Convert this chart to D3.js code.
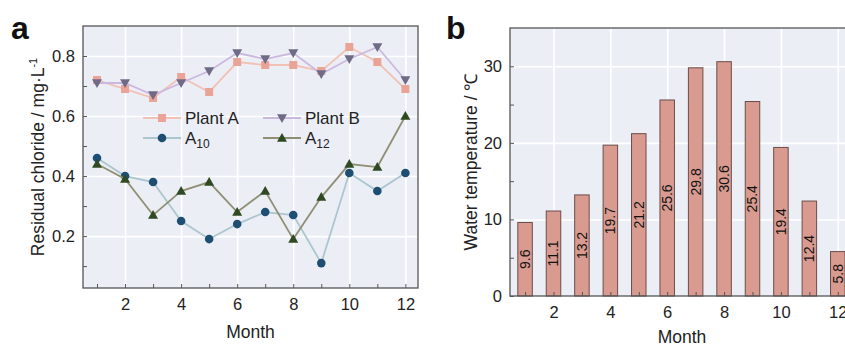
<!DOCTYPE html>
<html>
<head>
<meta charset="utf-8">
<script src="https://cdn.jsdelivr.net/npm/d3@7"></script>
<style>
  body { margin: 0; background: #fff; }
  svg { display: block; font-family: "Liberation Sans", Arial, sans-serif; }
  .frame { fill: none; stroke: #555; stroke-width: 1.3; }
  .plot-bg { fill: #eceef6; }
  .grid line { stroke: #fff; stroke-width: 1.6; }
  .grid path { display: none; }
  .axis path { display: none; }
  .axis line { stroke: #555; stroke-width: 1; }
  .axis text { font-size: 16.5px; fill: #222; }
</style>
</head>
<body>
<svg id="chart" width="845" height="346"></svg>
<script>
const months = [1, 2, 3, 4, 5, 6, 7, 8, 9, 10, 11, 12];

// panel a: residual chloride (mg/L)
const plantA = [0.72, 0.69, 0.66, 0.73, 0.68, 0.78, 0.77, 0.77, 0.75, 0.83, 0.78, 0.69];
const plantB = [0.71, 0.71, 0.67, 0.71, 0.75, 0.81, 0.79, 0.81, 0.74, 0.79, 0.83, 0.72];
const a10 = [0.46, 0.40, 0.38, 0.25, 0.19, 0.24, 0.28, 0.27, 0.11, 0.41, 0.35, 0.41];
const a12 = [0.44, 0.39, 0.27, 0.35, 0.38, 0.28, 0.35, 0.19, 0.33, 0.44, 0.43, 0.60];

// panel b: water temperature
const waterTemp = [9.6, 11.1, 13.2, 19.7, 21.2, 25.6, 29.8, 30.6, 25.4, 19.4, 12.4, 5.8];

const xTicks = [2, 4, 6, 8, 10, 12];
const chlorideTicks = [0.2, 0.4, 0.6, 0.8];
const tempTicks = [0, 10, 20, 30];

const svg = d3.select('#chart');

//
// Panel a
//

const a = { left: 83, top: 26, right: 418, bottom: 288 };

const xA = d3.scaleLinear().domain([0.5, 12.45]).range([a.left, a.right]);
const yA = d3.scaleLinear().domain([0.027, 0.9]).range([a.bottom, a.top]);

svg.append('rect')
  .attr('class', 'plot-bg')
  .attr('x', a.left).attr('y', a.top)
  .attr('width', a.right - a.left).attr('height', a.bottom - a.top);

svg.append('g')
  .attr('class', 'grid')
  .attr('transform', `translate(0,${a.bottom})`)
  .call(d3.axisBottom(xA).tickValues(xTicks).tickSize(-(a.bottom - a.top)).tickFormat(() => ''));

svg.append('g')
  .attr('class', 'grid')
  .attr('transform', `translate(${a.left},0)`)
  .call(d3.axisLeft(yA).tickValues(chlorideTicks).tickSize(-(a.right - a.left)).tickFormat(() => ''));

const series = [
  { name: 'Plant A', values: plantA, line: '#f2c1b6', fill: '#e9a497', shape: 'square' },
  { name: 'Plant B', values: plantB, line: '#cbb8df', fill: '#6f6a86', shape: 'down' },
  { name: 'A10', values: a10, line: '#abc6cf', fill: '#1f4e73', shape: 'circle' },
  { name: 'A12', values: a12, line: '#8f8f74', fill: '#2f4a22', shape: 'up' },
];

function marker(g, shape, fill, cx, cy) {
  if (shape === 'square') {
    g.append('rect').attr('x', cx - 4).attr('y', cy - 4)
      .attr('width', 8).attr('height', 8).attr('fill', fill);
  } else if (shape === 'circle') {
    g.append('circle').attr('cx', cx).attr('cy', cy).attr('r', 4.3).attr('fill', fill);
  } else {
    const s = 5;
    const d = shape === 'up'
      ? `M${cx},${cy - s} L${cx + s},${cy + s * 0.75} L${cx - s},${cy + s * 0.75} Z`
      : `M${cx},${cy + s} L${cx + s},${cy - s * 0.75} L${cx - s},${cy - s * 0.75} Z`;
    g.append('path').attr('d', d).attr('fill', fill);
  }
}

const line = d3.line()
  .x((d, i) => xA(months[i]))
  .y((d) => yA(d));

series.forEach((s) => {
  const g = svg.append('g');
  g.append('path')
    .datum(s.values)
    .attr('fill', 'none')
    .attr('stroke', s.line)
    .attr('stroke-width', 1.8)
    .attr('d', line);
  s.values.forEach((v, i) => marker(g, s.shape, s.fill, xA(months[i]), yA(v)));
});

// legend
const legendPos = [[143, 118], [263, 118], [143, 138], [263, 138]];
series.forEach((s, i) => {
  const [lx, ly] = legendPos[i];
  const g = svg.append('g');
  g.append('line')
    .attr('x1', lx).attr('x2', lx + 38)
    .attr('y1', ly).attr('y2', ly)
    .attr('stroke', s.line).attr('stroke-width', 1.8);
  marker(g, s.shape, s.fill, lx + 19, ly);
  const t = g.append('text')
    .attr('x', lx + 42).attr('y', ly + 6)
    .attr('font-size', 17).attr('fill', '#222');
  if (s.name.startsWith('A1')) {
    t.append('tspan').text('A');
    t.append('tspan').attr('dy', 4).attr('font-size', 12).text(s.name.slice(1));
  } else {
    t.text(s.name);
  }
});

svg.append('g')
  .attr('class', 'axis')
  .attr('transform', `translate(0,${a.bottom})`)
  .call(d3.axisBottom(xA).tickValues(months).tickSizeInner(-4).tickPadding(10)
    .tickFormat((d) => (d % 2 === 0 ? d : '')));

svg.append('g')
  .attr('class', 'axis')
  .attr('transform', `translate(${a.left},0)`)
  .call(d3.axisLeft(yA).tickValues([0.1, 0.2, 0.3, 0.4, 0.5, 0.6, 0.7, 0.8]).tickSizeInner(-4).tickPadding(8)
    .tickFormat((d) => (chlorideTicks.includes(d) ? d3.format('.1f')(d) : '')));

svg.append('rect')
  .attr('class', 'frame')
  .attr('x', a.left).attr('y', a.top)
  .attr('width', a.right - a.left).attr('height', a.bottom - a.top);

svg.append('text')
  .attr('x', (a.left + a.right) / 2).attr('y', 338)
  .attr('text-anchor', 'middle').attr('font-size', 17.5).attr('fill', '#222')
  .text('Month');

const yLabelA = svg.append('text')
  .attr('transform', `translate(44,${(a.top + a.bottom) / 2}) rotate(-90)`)
  .attr('text-anchor', 'middle').attr('font-size', 17.5).attr('fill', '#222');
yLabelA.append('tspan').text('Residual chloride / mg·L');
yLabelA.append('tspan').attr('dy', -7).attr('font-size', 11).text('-1');

svg.append('text')
  .attr('x', 11).attr('y', 39)
  .attr('font-size', 32).attr('font-weight', 'bold').attr('fill', '#111')
  .text('a');

//
// Panel b
//

const b = { left: 510, top: 28, right: 852, bottom: 296 };

const xB = d3.scaleLinear().domain([0.47, 12.5]).range([b.left, b.right]);
const yB = d3.scaleLinear().domain([0, 35]).range([b.bottom, b.top]);

svg.append('rect')
  .attr('class', 'plot-bg')
  .attr('x', b.left).attr('y', b.top)
  .attr('width', b.right - b.left).attr('height', b.bottom - b.top);

svg.append('g')
  .attr('class', 'grid')
  .attr('transform', `translate(0,${b.bottom})`)
  .call(d3.axisBottom(xB).tickValues(xTicks).tickSize(-(b.bottom - b.top)).tickFormat(() => ''));

svg.append('g')
  .attr('class', 'grid')
  .attr('transform', `translate(${b.left},0)`)
  .call(d3.axisLeft(yB).tickValues([10, 20, 30]).tickSize(-(b.right - b.left)).tickFormat(() => ''));

const barW = (xB(1.5) - xB(1)) * 1.02;

const bars = svg.append('g');
bars.selectAll('rect')
  .data(waterTemp)
  .join('rect')
  .attr('x', (d, i) => xB(months[i]) - barW / 2)
  .attr('y', (d) => yB(d))
  .attr('width', barW)
  .attr('height', (d) => yB(0) - yB(d))
  .attr('fill', '#d99b90')
  .attr('stroke', '#6b4d4a')
  .attr('stroke-width', 1);

bars.selectAll('text')
  .data(waterTemp)
  .join('text')
  .attr('transform', (d, i) => `translate(${xB(months[i]) + 5},${(yB(d) + yB(0)) / 2}) rotate(-90)`)
  .attr('text-anchor', 'middle')
  .attr('font-size', 14)
  .attr('fill', '#111')
  .text((d) => d3.format('.1f')(d));

svg.append('g')
  .attr('class', 'axis')
  .attr('transform', `translate(0,${b.bottom})`)
  .call(d3.axisBottom(xB).tickValues(months).tickSizeInner(-4).tickPadding(10)
    .tickFormat((d) => (d % 2 === 0 ? d : '')));

svg.append('g')
  .attr('class', 'axis')
  .attr('transform', `translate(${b.left},0)`)
  .call(d3.axisLeft(yB).tickValues([0, 5, 10, 15, 20, 25, 30]).tickSizeInner(-4).tickPadding(8)
    .tickFormat((d) => (tempTicks.includes(d) ? d : '')));

svg.append('rect')
  .attr('class', 'frame')
  .attr('x', b.left).attr('y', b.top)
  .attr('width', b.right - b.left).attr('height', b.bottom - b.top);

svg.append('text')
  .attr('x', 682).attr('y', 343)
  .attr('text-anchor', 'middle').attr('font-size', 17.5).attr('fill', '#222')
  .text('Month');

svg.append('text')
  .attr('transform', `translate(477,${(b.top + b.bottom) / 2}) rotate(-90)`)
  .attr('text-anchor', 'middle').attr('font-size', 17.5).attr('fill', '#222')
  .text('Water temperature / ℃');

svg.append('text')
  .attr('x', 446).attr('y', 39)
  .attr('font-size', 32).attr('font-weight', 'bold').attr('fill', '#111')
  .text('b');
</script>
</body>
</html>
